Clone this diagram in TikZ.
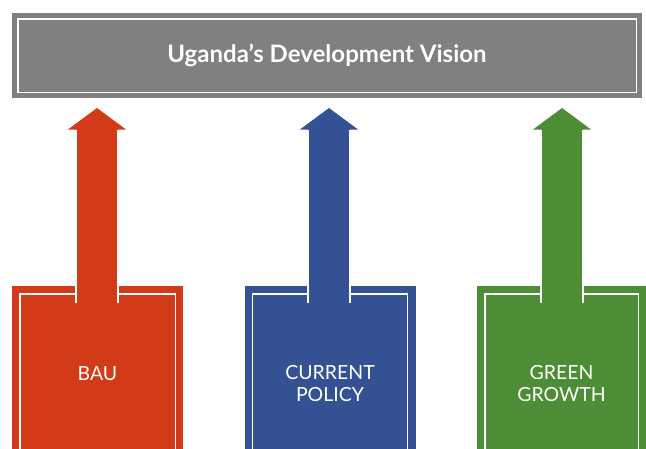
\documentclass[tikz,border=0pt]{standalone}
\usepackage{fontspec}
\setmainfont{Lato}
\usetikzlibrary{calc}
\definecolor{bauRed}{HTML}{D33B18}
\definecolor{polBlue}{HTML}{345193}
\definecolor{ggGreen}{HTML}{4D8D35}
\definecolor{visGray}{HTML}{808080}
\tikzset{
  titlebox/.style={fill=visGray, minimum width=630pt, minimum height=85pt, inner sep=0pt,
    text=white, font=\fontsize{24}{28}\selectfont\bfseries},
  scenario/.style={anchor=north, minimum width=171pt, inner sep=0pt, text=white, align=center,
    font=\fontsize{19.5}{22}\selectfont},
  innerline/.style={draw=white, line width=1.4pt},
  shaft/.style={line width=1.4pt, draw=white}
}
\newcommand{\uparrowshape}[3]{% #1 node name, #2 colour, #3 x centre
  \fill[#2] (#3,108) -- (#3+29,129.5) -- (#3+21,129.5) -- (#3+21,303) -- (#3-21,303) -- (#3-21,129.5) -- (#3-29,129.5) -- cycle;
  \draw[shaft] (#3-21,130) -- (#3-21,303);
  \draw[shaft] (#3+21,130) -- (#3+21,303);
}
\begin{document}
\begin{tikzpicture}[x=1pt,y=-1pt]
\useasboundingbox (0,0) rectangle (646,448);
% title
\node[titlebox] (vision) at (327,55.5) {Uganda’s Development Vision};
\draw[innerline] ($(vision.north west)+(6,6)$) rectangle ($(vision.south east)+(-6,-6)$);
% scenario boxes
\node[scenario, fill=bauRed, minimum height=174pt] (bau) at (97.5,286) {BAU};
\node[scenario, fill=polBlue, minimum height=194pt] (pol) at (330,286) {CURRENT\\POLICY};
\node[scenario, fill=ggGreen, minimum height=194pt, minimum width=169pt] (gg) at (561.5,286) {GREEN\\GROWTH};
\foreach \n in {bau,pol,gg}{
  \draw[innerline] ($(\n.south west)+(8,20)$) |- ($(\n.north)+(0,8)$) -| ($(\n.south east)+(-8,20)$);
}
% arrows
\uparrowshape{bau}{bauRed}{97}
\uparrowshape{pol}{polBlue}{329}
\uparrowshape{gg}{ggGreen}{562}
\end{tikzpicture}
\end{document}
